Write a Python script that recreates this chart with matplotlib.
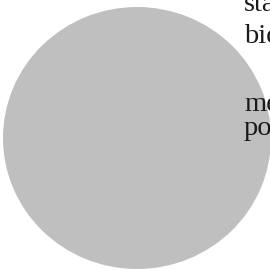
import matplotlib
matplotlib.use('Agg')
import matplotlib.pyplot as plt

# single slice, fills the whole disc
values = [1]
colors = ['#bfbfbf']
# text lines at the right, cut off by the figure edge
labels = ['statistics', 'biology', 'medicine', 'politics']
label_baselines = [11, 43, 111, 135]  # pixels from top

W = H = 270
fig = plt.figure(figsize=[2.7, 2.7], dpi=100)
ax = fig.add_axes([0, 0, 1, 1])
ax.pie(values, colors=colors, radius=1, startangle=90)

# disc center ~(137,138) px, radius ~134 px wide, ~131 px tall
cx, cy, rx, ry = 137.0, 138.0, 134.0, 131.0
ax.set_aspect('auto')
ax.set_xlim(-cx / rx, (W - cx) / rx)
ax.set_ylim(-(H - cy) / ry, cy / ry)
ax.axis('off')

for lab, yb in zip(labels, label_baselines):
    fig.text(244 / W, 1 - yb / H, lab, fontsize=20.5, family='Liberation Serif',
             color='#1a1a1a', ha='left', va='baseline')

fig.savefig('out.png', dpi=100)
